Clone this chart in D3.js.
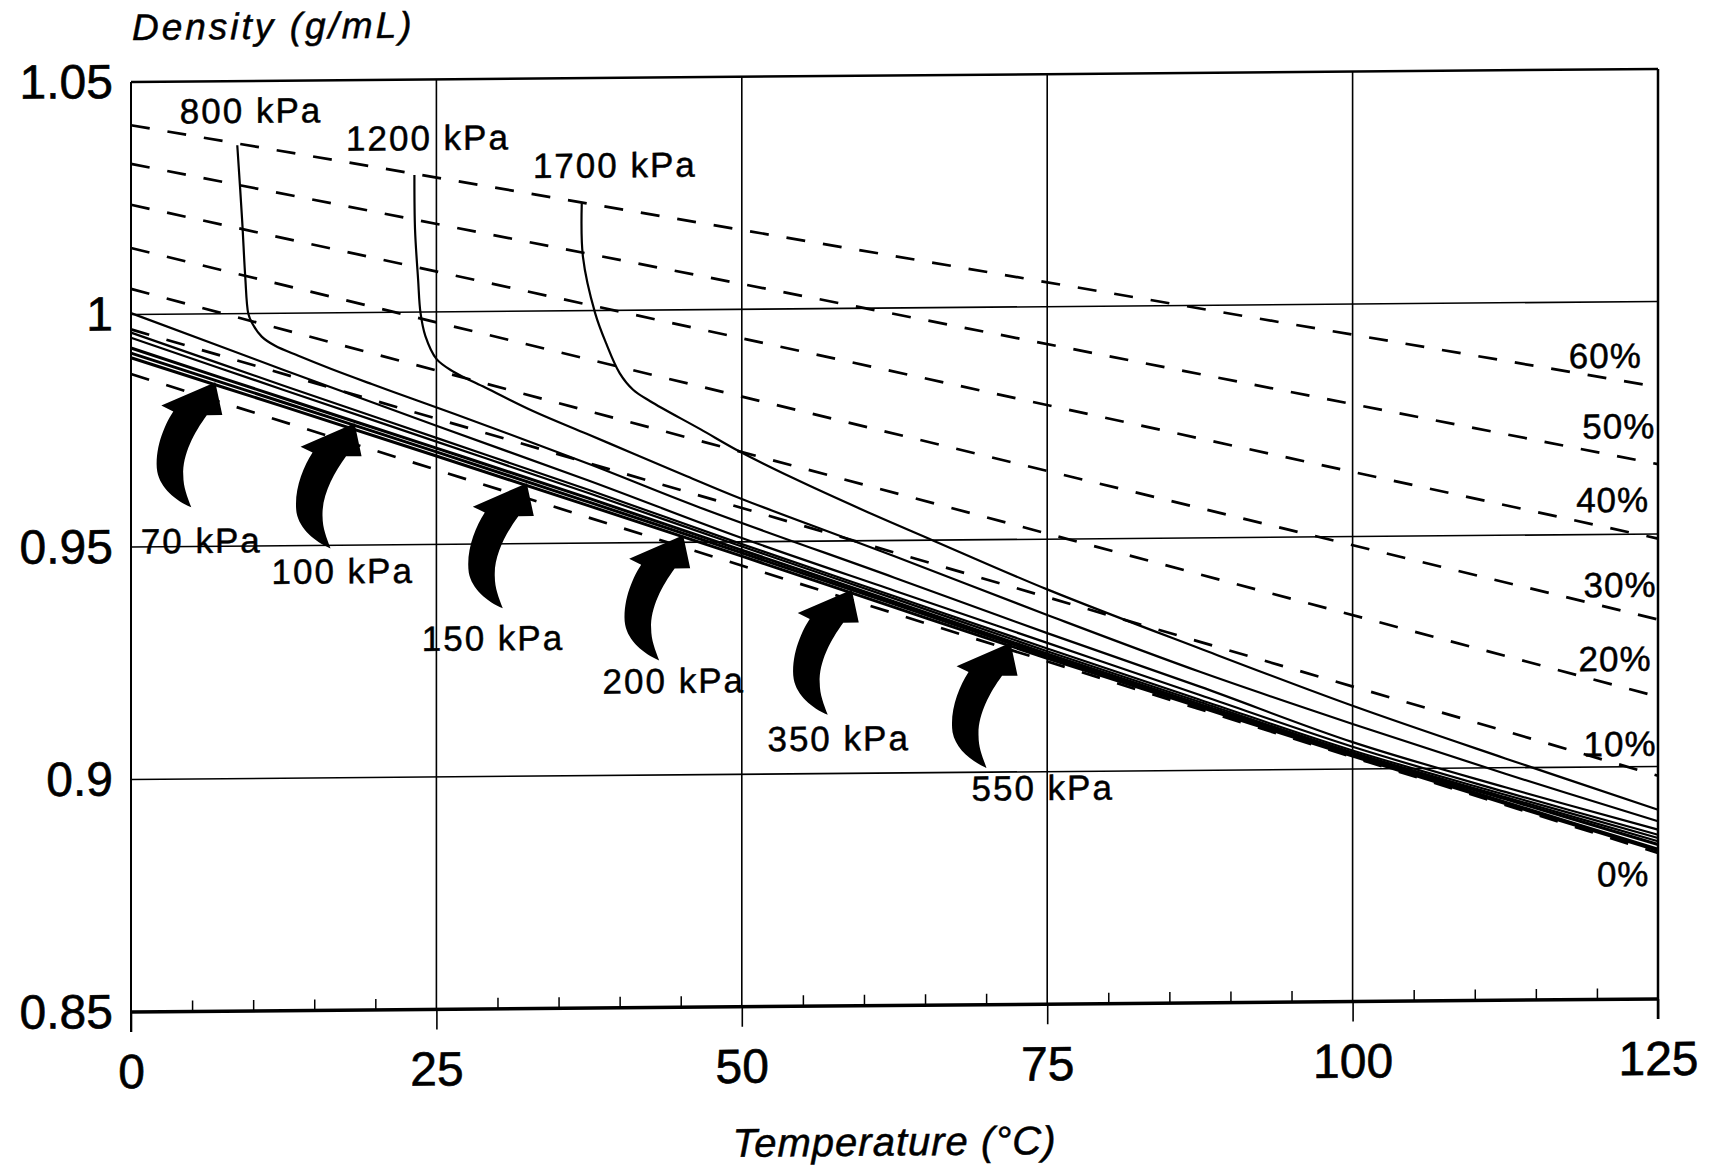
<!DOCTYPE html>
<html>
<head>
<meta charset="utf-8">
<script src="https://cdn.jsdelivr.net/npm/d3@7"></script>
<style>
  html, body { margin: 0; padding: 0; background: #fff; }
  svg { display: block; font-family: "Liberation Sans", Arial, Helvetica, sans-serif; }
</style>
</head>
<body>
<svg id="chart" width="1713" height="1167"></svg>
<script>
// ---- data ----
const xTicks = [0, 25, 50, 75, 100, 125]
const yTicks = [0.85, 0.9, 0.95, 1, 1.05]
const minorTicks = [5, 10, 15, 20, 30, 35, 40, 45, 55, 60, 65, 70, 80, 85, 90, 95, 105, 110, 115, 120]

// dashed iso-percentage lines: density at 0 and 125 °C
const pctNames = ['0%', '10%', '20%', '30%', '40%', '50%', '60%']
const pctAt0 = [0.9872, 0.9968, 1.0055, 1.0143, 1.0236, 1.0324, 1.0407]
const pctAt125 = [0.8814, 0.8980, 0.9150, 0.9316, 0.9490, 0.9650, 0.9816]
const pctLabelT = [120.0, 118.9, 118.5, 118.9, 118.3, 118.8, 117.7]
const pctLabelD = [0.8743, 0.9023, 0.9206, 0.9365, 0.9548, 0.9706, 0.9858]

// low pressure curves, sampled at these temperatures
const lowTemps = [0, 12.5, 25, 37.5, 50, 62.5, 75, 87.5, 100, 112.5, 125]
const d70  = [0.9907, 0.9799, 0.9690, 0.9580, 0.9469, 0.9356, 0.9244, 0.9136, 0.9028, 0.8923, 0.8819]
const d100 = [0.9917, 0.9808, 0.9699, 0.9588, 0.9476, 0.9363, 0.9249, 0.9139, 0.9031, 0.8926, 0.8822]
const d150 = [0.9928, 0.9817, 0.9707, 0.9596, 0.9482, 0.9368, 0.9253, 0.9142, 0.9033, 0.8933, 0.8832]
const d200 = [0.9950, 0.9835, 0.9721, 0.9607, 0.9490, 0.9375, 0.9259, 0.9147, 0.9036, 0.8937, 0.8839]
const d350 = [0.9961, 0.9844, 0.9729, 0.9614, 0.9495, 0.9380, 0.9265, 0.9152, 0.9040, 0.8942, 0.8846]
const d550 = [1.0003, 0.9878, 0.9755, 0.9634, 0.9508, 0.9392, 0.9277, 0.9162, 0.9048, 0.8948, 0.8853]

// high pressure curves as [temperature, density]
const p800 = [[8.7, 1.0362], [9.1, 1.020], [9.35, 1.008], [9.6, 1.0], [9.9, 0.998], [10.7, 0.995],
  [11.8, 0.9930], [13.7, 0.9908], [16.4, 0.9879], [19.7, 0.9846], [23.2, 0.9812], [26.5, 0.9780],
  [37.5, 0.9670], [46.6, 0.9574], [62.5, 0.9420], [75, 0.9298], [87.5, 0.9180], [100, 0.9058],
  [112.5, 0.8958], [125, 0.8864]]
const p1200 = [[23.2, 1.0295], [23.25, 1.0178], [23.5, 1.0071], [23.7, 0.9998], [24.1, 0.9948],
  [25.0, 0.9899], [26.4, 0.9871], [28.8, 0.9839], [32.9, 0.9785], [37.3, 0.9735], [41.1, 0.9692],
  [45.5, 0.9642], [50, 0.9592], [62.5, 0.9466], [75, 0.9337], [87.5, 0.9212], [100, 0.9097],
  [112.5, 0.8987], [125, 0.8882]]
const p1700 = [[36.9, 1.0231], [37.0, 1.0115], [38.0, 0.9994], [38.9, 0.9929], [40.0, 0.9865],
  [41.1, 0.9829], [42.5, 0.9804], [46.6, 0.9743], [49.9, 0.9693], [54.2, 0.9636], [60, 0.9565],
  [65.6, 0.9500], [75, 0.9392], [87.5, 0.9262], [100, 0.9136], [112.5, 0.9020], [125, 0.8907]]

// curve labels
const topNames = ['800 kPa', '1200 kPa', '1700 kPa']
const topLabelT = [4.0, 17.6, 32.9]
const topLabelD = [1.041, 1.0348, 1.0286]

const arrowNames = ['70 kPa', '100 kPa', '150 kPa', '200 kPa', '350 kPa', '550 kPa']
const arrowT = [6.9, 18.3, 32.4, 45.2, 59.0, 72.0]
const arrowD = [0.9853, 0.9762, 0.9630, 0.9515, 0.9395, 0.9278]
const arrowLabelT = [0.8, 11.5, 23.8, 38.6, 52.1, 68.8]
const arrowLabelD = [0.9486, 0.9418, 0.9271, 0.9176, 0.9049, 0.8939]

// ---- drawing ----
const x = d3.scaleLinear().domain([0, 125]).range([131, 1658])
const y = d3.scaleLinear().domain([0.85, 1.05]).range([1012, 82])

const svg = d3.select('#chart')
svg.append('rect').attr('width', 1713).attr('height', 1167).attr('fill', '#fff')

// the scan is slightly skewed: horizontals rise to the right, verticals stay upright
const x0 = x(0), y0 = y(0.85)
const g = svg.append('g').attr('transform', `translate(${x0},${y0}) skewY(-0.49) translate(${-x0},${-y0})`)

// grid
g.append('g').selectAll('line').data(xTicks.slice(1, -1)).join('line')
  .attr('x1', d => x(d)).attr('x2', d => x(d)).attr('y1', y(1.05)).attr('y2', y(0.85))
  .attr('stroke', '#000').attr('stroke-width', 1.6)
g.append('g').selectAll('line').data(yTicks.slice(1, -1)).join('line')
  .attr('x1', x(0)).attr('x2', x(125)).attr('y1', d => y(d)).attr('y2', d => y(d))
  .attr('stroke', '#000').attr('stroke-width', 1.6)

// x axis: big ticks below, minor ticks above
const xAxis = g.append('g').attr('transform', `translate(0,${y(0.85)})`)
  .call(d3.axisBottom(x).tickValues(xTicks).tickSize(20).tickPadding(22).tickFormat(d3.format('d')))
xAxis.select('.domain').remove()
xAxis.selectAll('line').attr('stroke-width', 1.6)
xAxis.selectAll('text').attr('font-size', 48).attr('fill', '#000')
  .attr('stroke', '#000').attr('stroke-width', 0.6)

const minor = g.append('g').attr('transform', `translate(0,${y(0.85)})`)
  .call(d3.axisBottom(x).tickValues(minorTicks).tickSize(-11).tickFormat(''))
minor.select('.domain').remove()
minor.selectAll('line').attr('stroke-width', 1.5)

// y axis labels
const yAxis = g.append('g').attr('transform', `translate(${x(0)},0)`)
  .call(d3.axisLeft(y).tickValues(yTicks).tickSize(0).tickPadding(18).tickFormat(d => String(+d.toFixed(2))))
yAxis.select('.domain').remove()
yAxis.selectAll('text').attr('font-size', 48).attr('fill', '#000')
  .attr('stroke', '#000').attr('stroke-width', 0.6)

// frame
g.append('line').attr('x1', x(0)).attr('x2', x(125)).attr('y1', y(1.05)).attr('y2', y(1.05))
  .attr('stroke', '#000').attr('stroke-width', 2.5)
g.append('line').attr('x1', x(0)).attr('x2', x(0)).attr('y1', y(1.05)).attr('y2', y(0.85) + 20)
  .attr('stroke', '#000').attr('stroke-width', 2)
g.append('line').attr('x1', x(125)).attr('x2', x(125)).attr('y1', y(1.05)).attr('y2', y(0.85) + 20)
  .attr('stroke', '#000').attr('stroke-width', 2.5)
g.append('line').attr('x1', x(0)).attr('x2', x(125)).attr('y1', y(0.85)).attr('y2', y(0.85))
  .attr('stroke', '#000').attr('stroke-width', 3.5)

const line = d3.line().x(d => x(d[0])).y(d => y(d[1]))
const smooth = d3.line().x(d => x(d[0])).y(d => y(d[1])).curve(d3.curveCatmullRom.alpha(0.5))

// dashed percentage lines
g.append('g').selectAll('path').data(pctNames.map((n, i) => [[0, pctAt0[i]], [125, pctAt125[i]]])).join('path')
  .attr('d', line).attr('fill', 'none').attr('stroke', '#000')
  .attr('stroke-width', 2.7).attr('stroke-dasharray', '19,18')

// pressure curves; the three lowest merge into a heavy band in the scan
const lowSeries = [d70, d100, d150, d200, d350, d550].map(arr => arr.map((v, i) => [lowTemps[i], v]))
const curveWidths = [3, 3, 3, 2.2, 2.2, 2.2, 2.2, 2.2, 2.2]
g.append('g').selectAll('path').data([...lowSeries, p800, p1200, p1700]).join('path')
  .attr('d', smooth).attr('fill', 'none').attr('stroke', '#000')
  .attr('stroke-width', (d, i) => curveWidths[i])

// percentage labels
g.append('g').selectAll('text').data(pctNames).join('text')
  .attr('x', (d, i) => x(pctLabelT[i])).attr('y', (d, i) => y(pctLabelD[i]))
  .attr('font-size', 35).attr('letter-spacing', 1).attr('stroke', '#000').attr('stroke-width', 0.5)
  .text(d => d)

// high pressure labels
g.append('g').selectAll('text').data(topNames).join('text')
  .attr('x', (d, i) => x(topLabelT[i])).attr('y', (d, i) => y(topLabelD[i]))
  .attr('font-size', 35).attr('letter-spacing', 2).attr('stroke', '#000').attr('stroke-width', 0.5)
  .text(d => d)

// curved arrows pointing at the low pressure curves
const arrowShape = 'M0,0 L7,33 L-8.5,33 C-21,50 -33,72 -32,93 C-32,105 -28,114 -24,125 ' +
  'C-40,118 -55,105 -58,89 C-61,68 -52,44 -42,29 L-54,23 Z'
g.append('g').selectAll('path').data(arrowNames).join('path')
  .attr('transform', (d, i) => `translate(${x(arrowT[i])},${y(arrowD[i])})`)
  .attr('d', arrowShape).attr('fill', '#000')
g.append('g').selectAll('text').data(arrowNames).join('text')
  .attr('x', (d, i) => x(arrowLabelT[i])).attr('y', (d, i) => y(arrowLabelD[i]))
  .attr('font-size', 35).attr('letter-spacing', 2).attr('stroke', '#000').attr('stroke-width', 0.5)
  .text(d => d)

// axis titles
g.append('text').attr('x', x(0) + 1).attr('y', 40)
  .attr('font-size', 37).attr('font-style', 'italic').attr('letter-spacing', 3)
  .attr('stroke', '#000').attr('stroke-width', 0.5)
  .text('Density (g/mL)')
g.append('text').attr('x', (x(0) + x(125)) / 2).attr('y', 1162)
  .attr('text-anchor', 'middle').attr('font-size', 40).attr('font-style', 'italic').attr('letter-spacing', 1)
  .attr('stroke', '#000').attr('stroke-width', 0.5)
  .text('Temperature (°C)')
</script>
</body>
</html>
